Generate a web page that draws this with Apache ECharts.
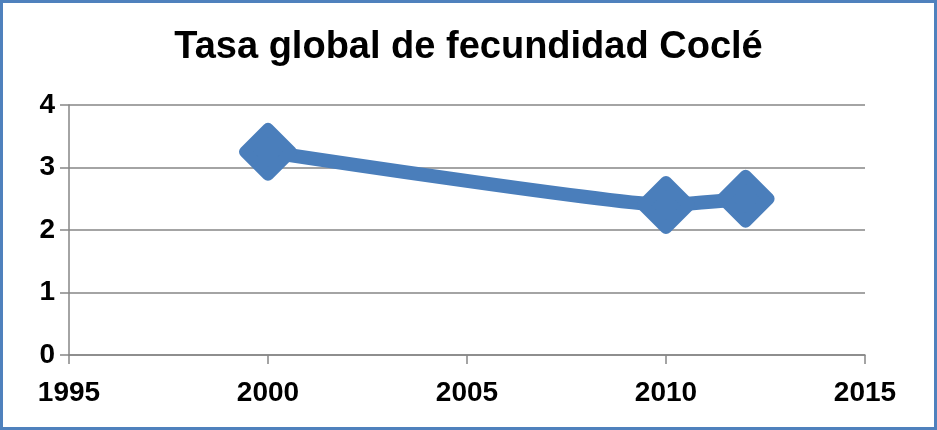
<!DOCTYPE html>
<html>
<head>
<meta charset="utf-8">
<script src="https://cdn.jsdelivr.net/npm/echarts@6/dist/echarts.min.js"></script>
<style>
  html, body { margin: 0; padding: 0; background: #fff; }
  #chart { width: 931px; height: 424px; border: 3px solid #4f81bd; }
</style>
</head>
<body>
<div id="chart"></div>
<script>
// datos
var years = [2000, 2010, 2012];
var tasa = [3.25, 2.4, 2.5];
var yTicks = [0, 1, 2, 3, 4];
var xTicks = [1995, 2000, 2005, 2010, 2015];

var myChart = echarts.init(document.getElementById('chart'));

var points = [];
for (var i = 0; i < years.length; i++) {
    points.push([years[i], tasa[i]]);
}

var option = {
    backgroundColor: '#fff',
    animation: false,
    title: {
        text: 'Tasa global de fecundidad Coclé',
        left: 'center',
        top: 21,
        textStyle: {
            fontFamily: 'Liberation Sans',
            fontWeight: 'bold',
            fontSize: 38,
            color: '#000'
        }
    },
    grid: {
        left: 66,
        right: 69,
        top: 102,
        bottom: 72
    },
    xAxis: {
        type: 'value',
        min: xTicks[0],
        max: xTicks[xTicks.length - 1],
        interval: 5,
        axisLine: { lineStyle: { color: '#868686', width: 1.5 } },
        axisTick: { show: true, length: 9, lineStyle: { color: '#868686', width: 1.5 } },
        splitLine: { show: false },
        axisLabel: {
            margin: 24,
            formatter: function(v) { return String(v); },
            fontFamily: 'Liberation Sans',
            fontWeight: 'bold',
            fontSize: 28,
            color: '#000'
        }
    },
    yAxis: {
        type: 'value',
        min: yTicks[0],
        max: yTicks[yTicks.length - 1],
        interval: 1,
        axisLine: { show: true, lineStyle: { color: '#868686', width: 1.5 } },
        axisTick: { show: true, length: 9, lineStyle: { color: '#868686', width: 1.5 } },
        splitLine: { lineStyle: { color: '#868686', width: 1.5 } },
        axisLabel: {
            margin: 14,
            fontFamily: 'Liberation Sans',
            fontWeight: 'bold',
            fontSize: 28,
            color: '#000'
        }
    },
    series: [
        {
            name: 'Tasa',
            type: 'line',
            smooth: 0.12,
            symbol: 'diamond',
            symbolSize: 46,
            itemStyle: {
                color: '#4a7ebb',
                borderColor: '#4a7ebb',
                borderWidth: 12,
                borderJoin: 'round'
            },
            lineStyle: {
                color: '#4a7ebb',
                width: 14
            },
            data: points
        }
    ]
};

myChart.setOption(option);
</script>
</body>
</html>
